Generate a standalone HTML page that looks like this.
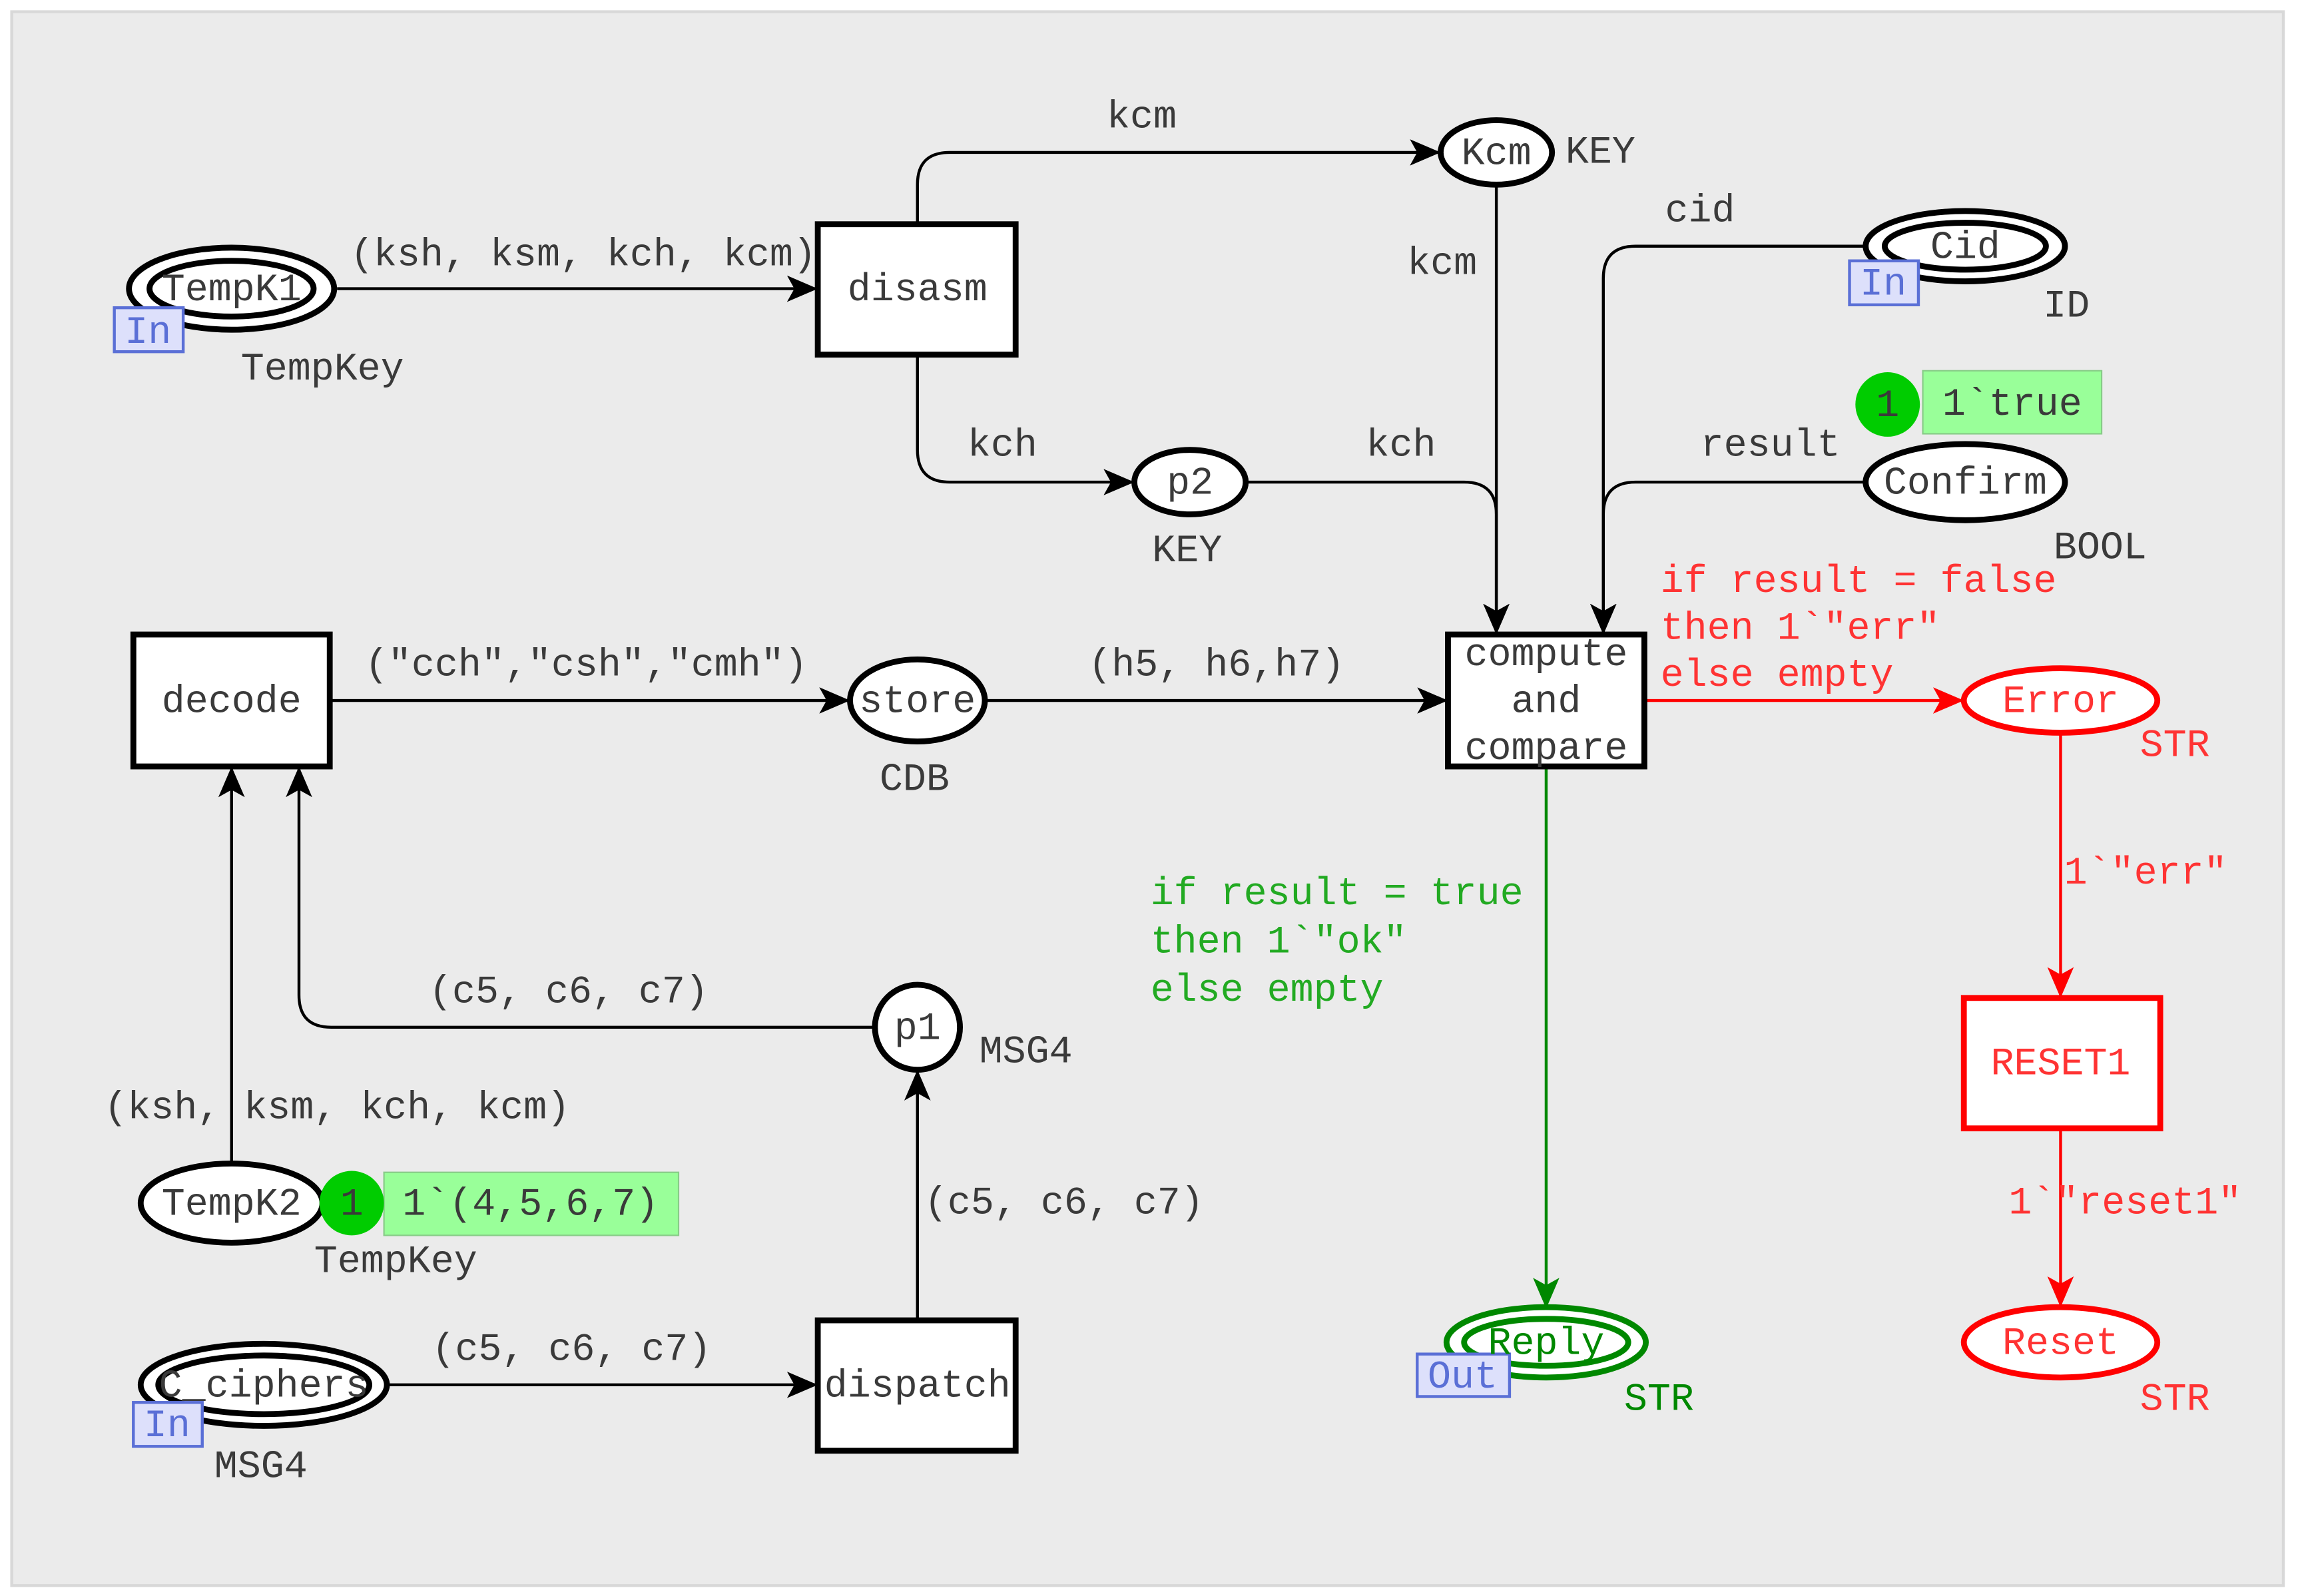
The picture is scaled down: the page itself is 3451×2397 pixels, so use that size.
<!DOCTYPE html>
<html><head><meta charset="utf-8"><style>
html,body{margin:0;padding:0;background:#fff;}
svg{display:block;}
text{font-family:"Liberation Mono",monospace;font-size:26.5px;fill:#3a3a3a;}
</style></head><body>
<svg width="3451" height="2397" viewBox="0 0 1568 1089.1" xmlns="http://www.w3.org/2000/svg">
<defs>
<marker id="ab" markerWidth="22" markerHeight="20" refX="20" refY="9" orient="auto" markerUnits="userSpaceOnUse"><path d="M0,0 L21,9 L0,18 L5,9 z" fill="#000"/></marker>
<marker id="ar" markerWidth="22" markerHeight="20" refX="20" refY="9" orient="auto" markerUnits="userSpaceOnUse"><path d="M0,0 L21,9 L0,18 L5,9 z" fill="#f00"/></marker>
<marker id="ag" markerWidth="22" markerHeight="20" refX="20" refY="9" orient="auto" markerUnits="userSpaceOnUse"><path d="M0,0 L21,9 L0,18 L5,9 z" fill="#080"/></marker>
</defs>
<rect x="8" y="8" width="1550" height="1074" fill="#ebebeb"/>
<rect x="8" y="8" width="1550" height="1074" fill="none" stroke="#d8d8d8" stroke-width="2"/>

<g fill="none" stroke="#000" stroke-width="2">
<path d="M230,197 L557,197" marker-end="url(#ab)"/>
<path d="M626,153 L626,126 Q626,104 648,104 L982,104" marker-end="url(#ab)"/>
<path d="M626,242 L626,307 Q626,329 648,329 L773,329" marker-end="url(#ab)"/>
<path d="M1021,126 L1021,432" marker-end="url(#ab)"/>
<path d="M850,329 L999,329 Q1021,329 1021,351 L1021,432" marker-end="url(#ab)"/>
<path d="M1273,168 L1116,168 Q1094,168 1094,190 L1094,432" marker-end="url(#ab)"/>
<path d="M1273,329 L1116,329 Q1094,329 1094,351 L1094,432" marker-end="url(#ab)"/>
<path d="M225,478 L579,478" marker-end="url(#ab)"/>
<path d="M672,478 L987,478" marker-end="url(#ab)"/>
<path d="M597,701 L226,701 Q204,701 204,679 L204,524" marker-end="url(#ab)"/>
<path d="M158,794 L158,524" marker-end="url(#ab)"/>
<path d="M264,945 L557,945" marker-end="url(#ab)"/>
<path d="M626,901 L626,731" marker-end="url(#ab)"/>
</g>
<path d="M1122,478 L1339,478" stroke="#f00" stroke-width="2" fill="none" marker-end="url(#ar)"/>
<path d="M1406,500 L1406,680" stroke="#f00" stroke-width="2" fill="none" marker-end="url(#ar)"/>
<path d="M1406,770 L1406,891" stroke="#f00" stroke-width="2" fill="none" marker-end="url(#ar)"/>
<path d="M1055,523 L1055,892" stroke="#080" stroke-width="2" fill="none" marker-end="url(#ag)"/>

<g stroke="#000" stroke-width="4" fill="#fff">
<ellipse cx="158" cy="197" rx="70" ry="28"/>
<ellipse cx="158" cy="197" rx="56" ry="19"/>
<ellipse cx="1021" cy="104" rx="38" ry="22"/>
<ellipse cx="812" cy="329" rx="38" ry="22"/>
<ellipse cx="1341" cy="168" rx="68" ry="24"/>
<ellipse cx="1341" cy="168" rx="55" ry="16"/>
<ellipse cx="1341" cy="329" rx="68" ry="26"/>
<ellipse cx="626" cy="478" rx="46" ry="28"/>
<circle cx="626" cy="701" r="29"/>
<ellipse cx="158" cy="821" rx="62" ry="27"/>
<ellipse cx="180" cy="945" rx="84" ry="28"/>
<ellipse cx="180" cy="945" rx="72" ry="20"/>
<rect x="558" y="153" width="135" height="89"/>
<rect x="988" y="433" width="134" height="90"/>
<rect x="91" y="433" width="134" height="90"/>
<rect x="558" y="901" width="135" height="89"/>
</g>
<g stroke="#f00" stroke-width="4" fill="#fff">
<ellipse cx="1406" cy="478" rx="66" ry="22"/>
<rect x="1340" y="681" width="134" height="89"/>
<ellipse cx="1406" cy="916" rx="66" ry="24"/>
</g>
<g stroke="#080" stroke-width="4" fill="#fff">
<ellipse cx="1055" cy="916" rx="68" ry="24"/>
<ellipse cx="1055" cy="916" rx="56" ry="16"/>
</g>

<g fill="#dde0fb" stroke="#5a6fd6" stroke-width="2">
<rect x="78" y="210" width="47" height="30"/>
<rect x="1262" y="178" width="47" height="30"/>
<rect x="91" y="957" width="47" height="30"/>
<rect x="967" y="924" width="63" height="29"/>
</g>
<text x="101" y="234" text-anchor="middle" style="fill:#5a6fd6">In</text>
<text x="1285" y="201" text-anchor="middle" style="fill:#5a6fd6">In</text>
<text x="114" y="980" text-anchor="middle" style="fill:#5a6fd6">In</text>
<text x="998" y="947" text-anchor="middle" style="fill:#5a6fd6">Out</text>

<rect x="1312" y="253" width="122" height="43" fill="#99ff99" stroke="#8c8" stroke-width="1"/>
<circle cx="1288" cy="276" r="22" fill="#00cc00"/>
<text x="1288" y="284" text-anchor="middle">1</text>
<text x="1373" y="283" text-anchor="middle">1`true</text>
<rect x="262" y="800" width="201" height="43" fill="#99ff99" stroke="#8c8" stroke-width="1"/>
<circle cx="240" cy="821" r="22" fill="#00cc00"/>
<text x="240" y="829" text-anchor="middle">1</text>
<text x="362" y="829" text-anchor="middle">1`(4,5,6,7)</text>

<g text-anchor="middle">
<text x="158" y="205">TempK1</text>
<text x="626" y="205">disasm</text>
<text x="1021" y="112">Kcm</text>
<text x="812" y="337">p2</text>
<text x="1341" y="176">Cid</text>
<text x="1341" y="337">Confirm</text>
<text x="158" y="486">decode</text>
<text x="626" y="486">store</text>
<text x="1055" y="454">compute</text>
<text x="1055" y="486">and</text>
<text x="1055" y="518">compare</text>
<text x="626" y="709">p1</text>
<text x="158" y="829">TempK2</text>
<text x="180" y="953">C_ciphers</text>
<text x="626" y="953">dispatch</text>
<text x="1406" y="486" style="fill:#f33">Error</text>
<text x="1406" y="733" style="fill:#f33">RESET1</text>
<text x="1406" y="924" style="fill:#f33">Reset</text>
<text x="1055" y="924" style="fill:#080">Reply</text>

<text x="220" y="259">TempKey</text>
<text x="1092" y="111">KEY</text>
<text x="810" y="383">KEY</text>
<text x="1410" y="216">ID</text>
<text x="1433" y="381">BOOL</text>
<text x="624" y="539">CDB</text>
<text x="700" y="725">MSG4</text>
<text x="270" y="868">TempKey</text>
<text x="178" y="1008">MSG4</text>
<text x="1484" y="516" style="fill:#f33">STR</text>
<text x="1484" y="962" style="fill:#f33">STR</text>
<text x="1132" y="962" style="fill:#080">STR</text>

<text x="398" y="181">(ksh, ksm, kch, kcm)</text>
<text x="779" y="87">kcm</text>
<text x="684" y="311">kch</text>
<text x="984" y="187">kcm</text>
<text x="956" y="311">kch</text>
<text x="1160" y="151">cid</text>
<text x="1208" y="311">result</text>
<text x="400" y="461">("cch","csh","cmh")</text>
<text x="830" y="461">(h5, h6,h7)</text>
<text x="388" y="684">(c5, c6, c7)</text>
<text x="230" y="763">(ksh, ksm, kch, kcm)</text>
<text x="390" y="928">(c5, c6, c7)</text>
<text x="726" y="828">(c5, c6, c7)</text>
<text x="1464" y="603" style="fill:#f33">1`"err"</text>
<text x="1450" y="828" style="fill:#f33">1`"reset1"</text>
</g>
<text x="1133" y="404" style="fill:#f33">if result = false</text>
<text x="1133" y="436" style="fill:#f33">then 1`"err"</text>
<text x="1133" y="468" style="fill:#f33">else empty</text>
<text x="785" y="617" style="fill:#2a2">if result = true</text>
<text x="785" y="650" style="fill:#2a2">then 1`"ok"</text>
<text x="785" y="683" style="fill:#2a2">else empty</text>
</svg>
</body></html>
